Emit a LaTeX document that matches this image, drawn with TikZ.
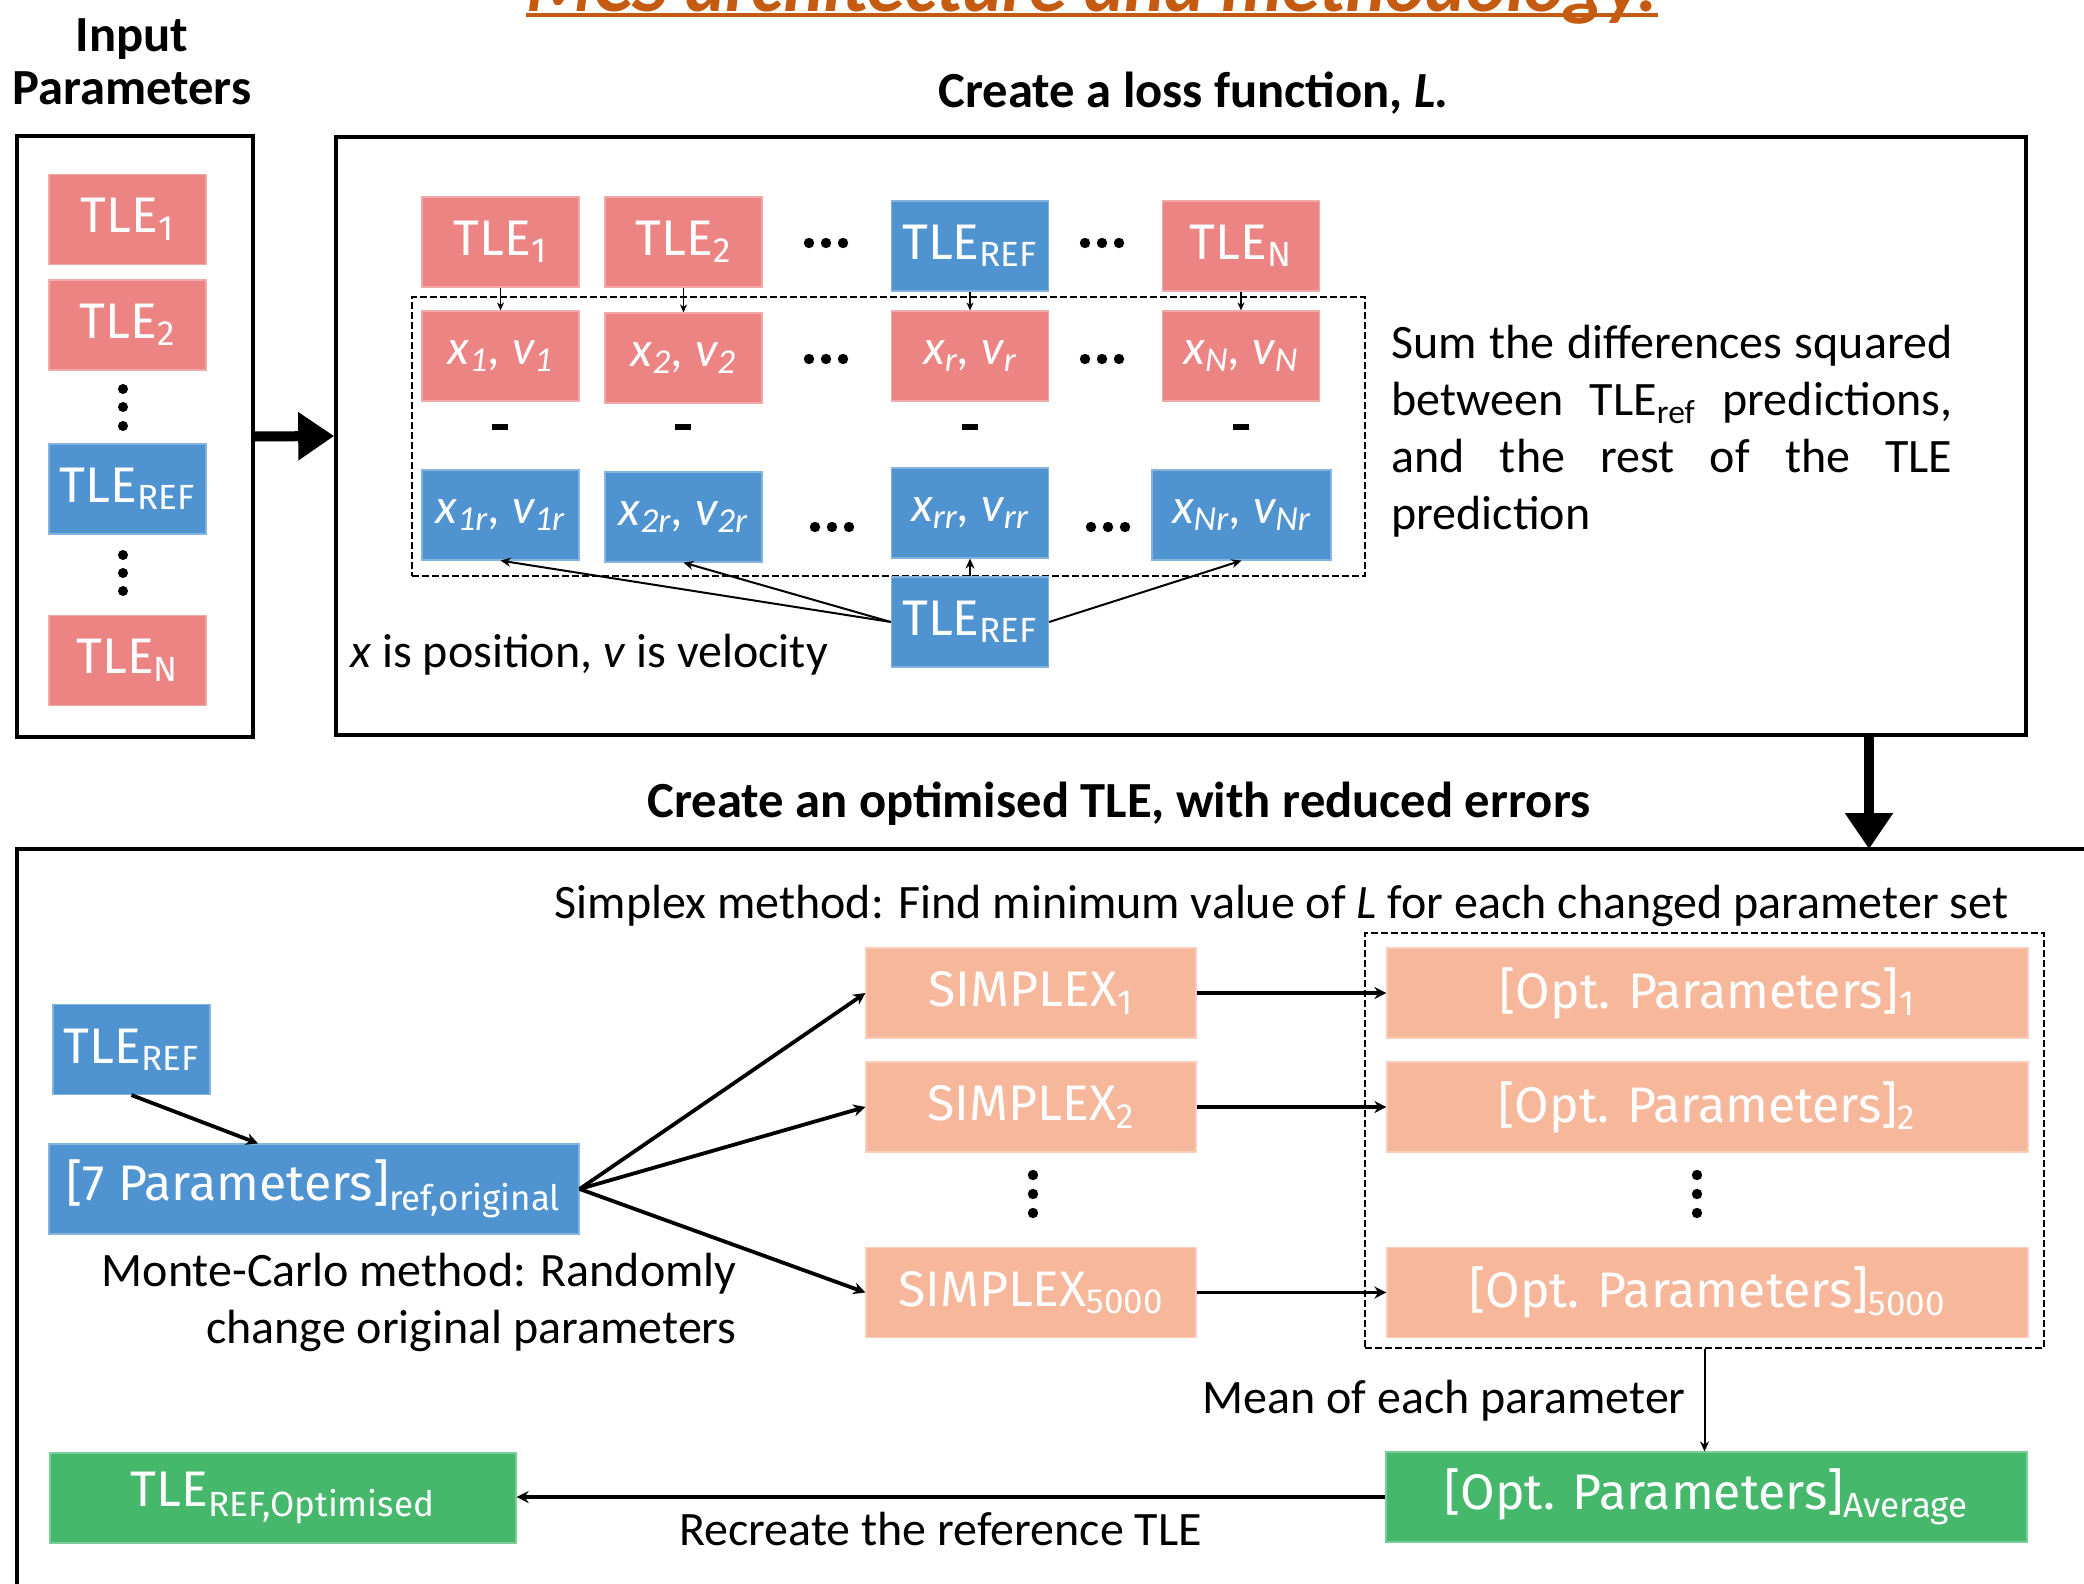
\documentclass[tikz,border=0pt]{standalone}
\usepackage{fontspec}
\setmainfont{Carlito}
\newfontfamily\boxfont{Fira Sans}
\usetikzlibrary{arrows.meta,calc}
\definecolor{cpink}{HTML}{EC8484}
\definecolor{cblue}{HTML}{4F93D0}
\definecolor{csalmon}{HTML}{F7B79B}
\definecolor{cgreen}{HTML}{45B86C}
\definecolor{ctitle}{HTML}{C55A11}
\newcommand\dnsub[1]{\textsubscript{#1}}
\begin{document}
\begin{tikzpicture}[x=0.5pt,y=-0.5pt,
  bx/.style={rectangle, inner sep=0pt, text=white, line width=0.6pt,
    font=\boxfont\fontsize{25}{29}\selectfont, minimum width=78.5pt, minimum height=45pt},
  pinkbox/.style={bx, fill=cpink, draw=cpink!70!white},
  bluebox/.style={bx, fill=cblue, draw=cblue!70!white},
  salbox/.style={bx, fill=csalmon, draw=csalmon!70!white},
  greenbox/.style={bx, fill=cgreen, draw=cgreen!70!white},
  xv/.style={font=\fontsize{25}{28}\selectfont\itshape},
  txt/.style={inner sep=0pt, font=\fontsize{24}{28.5}\selectfont},
  btitle/.style={inner sep=0pt, font=\bfseries\fontsize{25.3}{26.5}\selectfont},
  frame/.style={draw=black, line width=1.8pt, inner sep=0pt},
  bigarrow/.style={line width=5pt, -{Triangle[length=18pt,width=23pt]}},
  thinarrow/.style={line width=0.7pt, -{Stealth[length=4pt,width=3.5pt]}},
  midarrow/.style={line width=1pt, -{Stealth[length=5pt,width=4.5pt]}},
  thickarrow/.style={line width=1.9pt, -{Stealth[length=6pt,width=6pt]}},
  dashbox/.style={draw=black, dash pattern=on 3.5pt off 1.5pt, line width=0.9pt, inner sep=0pt},
  minus/.style={fill=black, inner sep=0pt, minimum width=8pt, minimum height=3pt},
]
\useasboundingbox (0,0) rectangle (2084,1584);

% title (cut off at top, as in the reference)
\node[font=\bfseries\itshape\fontsize{38}{40}\selectfont, text=ctitle, anchor=base, inner sep=0pt] (title) at (1092,12) {MCS architecture and methodology.};
\draw[ctitle, line width=2.3pt] ([yshift=-1.5pt]title.base west) -- ([yshift=-1.5pt]title.base east);

% ---------- input parameters ----------
\node[btitle, align=center] (inlabel) at (132,62) {Input\\Parameters};
\node[frame, minimum width=118pt, minimum height=300.5pt] (leftframe) at (135,436.5) {};
\node[pinkbox] (l1) at (127.5,219.5) {TLE\dnsub{1}};
\node[pinkbox] (l2) at (127.5,325) {TLE\dnsub{2}};
\node[bluebox] (lref) at (127.5,489) {TLE\dnsub{REF}};
\node[pinkbox] (ln) at (127.5,660.5) {TLE\dnsub{N}};
\foreach \yy in {389,407,426,555,573,591} \fill (123,\yy) circle[radius=2.5pt];

% ---------- loss function ----------
\node[btitle] (losstitle) at (1194,93) {Create a loss function, \textit{L.}};
\node[frame, minimum width=845pt, minimum height=299pt] (mainframe) at (1181,436) {};
\draw[bigarrow] (leftframe.east) -- (mainframe.west);

\node[dashbox, minimum width=476.5pt, minimum height=139.5pt] (dashA) at (888.5,436.5) {};

\node[pinkbox] (t1) at (500.5,242) {TLE\dnsub{1}};
\node[pinkbox] (t2) at (683.5,242) {TLE\dnsub{2}};
\node[bluebox] (tref) at (970,246) {TLE\dnsub{REF}};
\node[pinkbox] (tn) at (1241,246) {TLE\dnsub{N}};

\node[pinkbox, xv] (x1) at (500.5,356) {x\dnsub{1}, v\dnsub{1}};
\node[pinkbox, xv] (x2) at (683.5,358) {x\dnsub{2}, v\dnsub{2}};
\node[pinkbox, xv] (xr) at (970,356) {x\dnsub{r}, v\dnsub{r}};
\node[pinkbox, xv] (xn) at (1241,356) {x\dnsub{N}, v\dnsub{N}};

\node[bluebox, xv] (x1r) at (500.5,515) {x\dnsub{1r}, v\dnsub{1r}};
\node[bluebox, xv] (x2r) at (683.5,517) {x\dnsub{2r}, v\dnsub{2r}};
\node[bluebox, xv] (xrr) at (970,513) {x\dnsub{rr}, v\dnsub{rr}};
\node[bluebox, xv, minimum width=89.5pt] (xnr) at (1241.5,515) {x\dnsub{Nr}, v\dnsub{Nr}};

\node[bluebox] (tref2) at (970,622) {TLE\dnsub{REF}};

\foreach \xx in {500,683,970,1241} \node[minus] at (\xx,427) {};
\foreach \xx/\yy in {826/243,1102/243,826/359,1102/359,832/527,1108/527}
  \foreach \dd in {-17,0,17} \fill (\xx+\dd,\yy) circle[radius=2.6pt];

\draw[thinarrow] (t1.south) -- (x1.north);
\draw[thinarrow] (t2.south) -- (x2.north);
\draw[thinarrow] (tref.south) -- (xr.north);
\draw[thinarrow] (tn.south) -- (xn.north);

\draw[midarrow] (tref2.west) -- (x1r.south);
\draw[midarrow] (tref2.west) -- (x2r.south);
\draw[midarrow] (tref2.north) -- (xrr.south);
\draw[midarrow] (tref2.east) -- (xnr.south);

\node[txt, anchor=base west] (note) at (350,667) {\textit{x} is position, \textit{v} is velocity};
\node[txt, anchor=north west, text width=280.5pt, align=justify] (sumtext) at (1391,325)
  {Sum the differences squared\linebreak between TLE\dnsub{ref} predictions,\linebreak and the rest of the TLE\linebreak prediction};

% ---------- optimisation ----------
\node[btitle] (opttitle) at (1119,804) {Create an optimised TLE, with reduced errors};
\draw[line width=1.8pt] (2100,849) -- (17,849) -- (17,1600);
\coordinate (bottomtop) at (1869,849);
\draw[bigarrow] ([xshift=344pt]mainframe.south) -- (bottomtop);

\node[txt, anchor=base] (simplextext) at (1281.5,918) {Simplex method: Find minimum value of \textit{L} for each changed parameter set};

\node[bluebox] (tref3) at (131.5,1049.5) {TLE\dnsub{REF}};
\node[bluebox, minimum width=265pt] (params) at (314,1189) {[7 Parameters]\dnsub{ref,original}};
\draw[thickarrow] (tref3.south) -- ([xshift=-28pt]params.north);
\node[txt, align=right, anchor=north east] (mc) at (737,1253) {Monte-Carlo method: Randomly\\change original parameters};

\node[salbox, minimum width=165pt] (s1) at (1031,993) {SIMPLEX\dnsub{1}};
\node[salbox, minimum width=165pt] (s2) at (1031,1107) {SIMPLEX\dnsub{2}};
\node[salbox, minimum width=165pt] (s5) at (1031,1292.5) {SIMPLEX\dnsub{5000}};

\node[dashbox, minimum width=339.5pt, minimum height=207.5pt] (optbox) at (1704.5,1140.5) {};
\node[salbox, minimum width=320.5pt] (o1) at (1707.5,993) {[Opt. Parameters]\dnsub{1}};
\node[salbox, minimum width=320.5pt] (o2) at (1707.5,1107) {[Opt. Parameters]\dnsub{2}};
\node[salbox, minimum width=320.5pt] (o5) at (1707.5,1292.5) {[Opt. Parameters]\dnsub{5000}};

\foreach \xx in {1033,1697} \foreach \yy in {1175,1194,1213} \fill (\xx,\yy) circle[radius=2.6pt];

\draw[thickarrow] (params.east) -- (s1.west);
\draw[thickarrow] (params.east) -- (s2.west);
\draw[thickarrow] (params.east) -- (s5.west);
\draw[thickarrow] (s1.east) -- (o1.west);
\draw[thickarrow] (s2.east) -- (o2.west);
\draw[thickarrow] (s5.east) -- (o5.west);

\node[greenbox, minimum width=320.5pt] (avg) at (1706.5,1497) {[Opt. Parameters]\dnsub{Average}};
\node[greenbox, minimum width=233pt] (topt) at (283,1498) {TLE\dnsub{REF,Optimised}};
\draw[midarrow] (optbox.south) -- (optbox.south |- avg.north);
\node[txt, anchor=base east] (meantext) at (1686,1413) {Mean of each parameter};
\draw[thickarrow, line width=2.1pt] (avg.west) -- (avg.west -| topt.east);
\node[txt, anchor=base] (recreate) at (940.5,1545) {Recreate the reference TLE};
\end{tikzpicture}
\end{document}
